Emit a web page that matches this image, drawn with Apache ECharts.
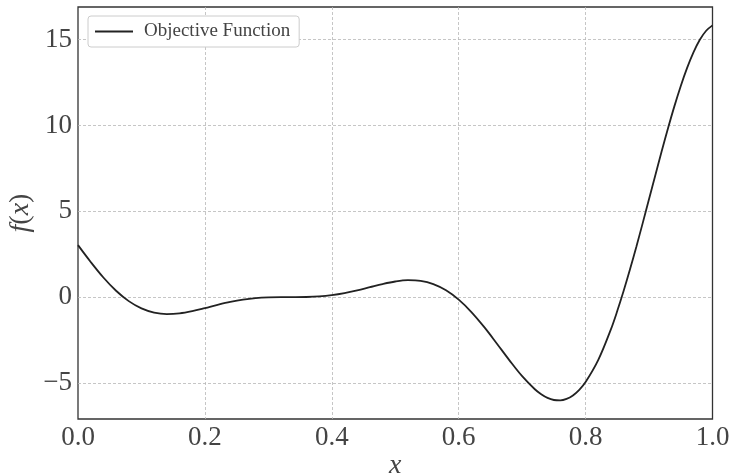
<!DOCTYPE html>
<html>
<head>
<meta charset="utf-8">
<script src="https://cdn.jsdelivr.net/npm/echarts@6/dist/echarts.min.js"></script>
<style>html,body{margin:0;padding:0;background:#fff}#c{width:730px;height:473px}</style>
</head>
<body>
<div id="c"></div>
<script>
var seriesName = 'Objective Function';
var xValues = [0.00,0.02,0.04,0.06,0.08,0.10,0.12,0.14,0.16,0.18,0.20,0.22,0.24,0.26,0.28,0.30,0.32,0.34,0.36,0.38,0.40,0.42,0.44,0.46,0.48,0.50,0.52,0.54,0.56,0.58,0.60,0.62,0.64,0.66,0.68,0.70,0.72,0.73,0.74,0.75,0.76,0.77,0.78,0.79,0.80,0.82,0.84,0.85,0.86,0.87,0.88,0.89,0.90,0.91,0.92,0.93,0.94,0.95,0.96,0.97,0.98,0.99,1.00];
var yValues = [3.027,2.049,1.144,0.371,-0.234,-0.657,-0.900,-0.985,-0.944,-0.816,-0.640,-0.452,-0.282,-0.149,-0.061,-0.016,-0.001,0.000,0.008,0.042,0.115,0.233,0.392,0.577,0.761,0.909,0.984,0.945,0.757,0.396,-0.149,-0.870,-1.736,-2.698,-3.682,-4.606,-5.368,-5.658,-5.870,-5.993,-6.017,-5.931,-5.728,-5.402,-4.949,-3.656,-1.865,-0.799,0.367,1.619,2.940,4.311,5.711,7.119,8.506,9.852,11.126,12.303,13.357,14.260,14.991,15.518,15.830];
var xTicks = [0.0,0.2,0.4,0.6,0.8,1.0];
var yTicks = [-5,0,5,10,15];

var chart = echarts.init(document.getElementById('c'), null, {renderer:'canvas'});
var data = xValues.map(function(x,i){return [x,yValues[i]];});
var FONT = '"Liberation Serif", "DejaVu Serif", serif';
chart.setOption({
  animation:false,
  grid:{left:78,right:17.5,top:7,bottom:54,show:true,borderColor:'#333',borderWidth:1.3,backgroundColor:'transparent',
        containLabel:false,outerBoundsMode:'none'},
  legend:{
    left:88,top:16,orient:'vertical',
    padding:[6,9,6,7],
    borderColor:'#cccccc',borderWidth:1,borderRadius:3,backgroundColor:'#fff',
    itemWidth:38,itemHeight:2,itemGap:10,
    icon:'rect',
    textStyle:{fontFamily:FONT,fontSize:19,color:'#444',padding:[0,0,0,6]},
    data:[seriesName]
  },
  xAxis:{
    type:'value',min:0,max:1,interval:0.2,
    axisLine:{show:false},axisTick:{show:false},
    axisLabel:{fontFamily:FONT,fontSize:27,color:'#444',margin:5,
      formatter:function(v){return xTicks.some(function(t){return Math.abs(t-v)<1e-9;})?v.toFixed(1):'';}},
    splitLine:{show:true,showMinLine:false,showMaxLine:false,lineStyle:{color:'#b8b8b8',type:[3,2],width:0.8}},
    name:'x',nameLocation:'middle',nameGap:47,nameMoveOverlap:false,
    nameTextStyle:{fontFamily:FONT,fontSize:28,fontStyle:'italic',color:'#444',verticalAlign:'middle',lineHeight:28}
  },
  yAxis:{
    type:'value',min:-7.1,max:16.9,splitNumber:5,
    axisLine:{show:false},axisTick:{show:false},
    axisLabel:{fontFamily:FONT,fontSize:27,color:'#444',margin:6,showMinLabel:false,showMaxLabel:false,
      formatter:function(v){
        if(!yTicks.some(function(t){return Math.abs(t-v)<1e-9;})) return '';
        return v<0?'\u2212'+Math.abs(v):String(v);}},
    splitLine:{show:true,showMinLine:false,showMaxLine:false,lineStyle:{color:'#b8b8b8',type:[3,2],width:0.8}},
    name:'{i|f}{n|(}{i|x}{n|)}',nameLocation:'middle',nameGap:57,nameMoveOverlap:false,
    nameTextStyle:{fontFamily:FONT,fontSize:28,color:'#444',verticalAlign:'middle',
      rich:{i:{fontFamily:FONT,fontSize:28,fontStyle:'italic',color:'#444'},n:{fontFamily:FONT,fontSize:28,color:'#444'}}}
  },
  series:[{
    name:seriesName,type:'line',data:data,smooth:0.35,showSymbol:false,
    lineStyle:{color:'#222',width:1.8},itemStyle:{color:'#222'}
  }]
});
</script>
</body>
</html>
